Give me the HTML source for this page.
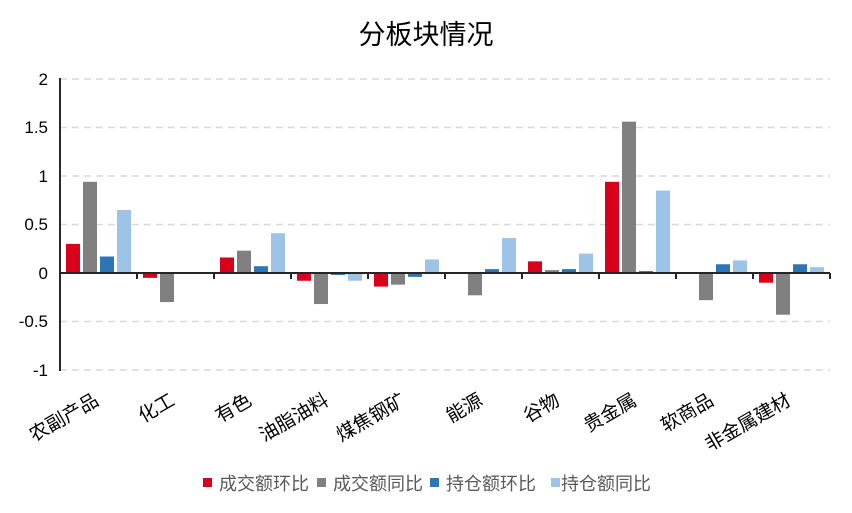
<!DOCTYPE html>
<html><head><meta charset="utf-8"><style>
body{margin:0;background:#fff;}
svg{display:block;font-family:"Liberation Sans","Noto Sans CJK SC",sans-serif;}
</style></head><body>
<svg id="s" width="852" height="513" viewBox="0 0 852 513">
<text x="426" y="44" text-anchor="middle" font-size="27" fill="#000">分板块情况</text>
<g stroke="#d9d9d9" stroke-width="1.5" stroke-dasharray="7,5">
<line x1="60" x2="830" y1="79" y2="79"/><line x1="60" x2="830" y1="127.5" y2="127.5"/>
<line x1="60" x2="830" y1="176" y2="176"/><line x1="60" x2="830" y1="224.5" y2="224.5"/>
<line x1="60" x2="830" y1="321.5" y2="321.5"/><line x1="60" x2="830" y1="370" y2="370"/>
</g>
<g font-size="17" fill="#000" text-anchor="end">
<text x="48" y="85">2</text><text x="48" y="133">1.5</text><text x="48" y="182">1</text>
<text x="48" y="230">0.5</text><text x="48" y="279">0</text><text x="48" y="327">-0.5</text><text x="48" y="376">-1</text>
</g>
<g id="bars"></g>
<line x1="60" y1="78" x2="60" y2="371" stroke="#262626" stroke-width="2"/>
<line x1="59" y1="273" x2="830" y2="273" stroke="#262626" stroke-width="2"/>
<g stroke="#262626" stroke-width="2">
<line x1="137" x2="137" y1="273" y2="279"/><line x1="214" x2="214" y1="273" y2="279"/><line x1="291" x2="291" y1="273" y2="279"/>
<line x1="368" x2="368" y1="273" y2="279"/><line x1="445" x2="445" y1="273" y2="279"/><line x1="522" x2="522" y1="273" y2="279"/>
<line x1="599" x2="599" y1="273" y2="279"/><line x1="676" x2="676" y1="273" y2="279"/><line x1="753" x2="753" y1="273" y2="279"/>
<line x1="830" x2="830" y1="273" y2="279"/>
</g>
<g font-size="19" fill="#000" text-anchor="end">
<text transform="translate(100,404) rotate(-30)">农副产品</text>
<text transform="translate(176,404) rotate(-30)">化工</text>
<text transform="translate(253,404) rotate(-30)">有色</text>
<text transform="translate(330,404) rotate(-30)">油脂油料</text>
<text transform="translate(407,404) rotate(-30)">煤焦钢矿</text>
<text transform="translate(484,404) rotate(-30)">能源</text>
<text transform="translate(561,404) rotate(-30)">谷物</text>
<text transform="translate(638,404) rotate(-30)">贵金属</text>
<text transform="translate(715,404) rotate(-30)">软商品</text>
<text transform="translate(792,404) rotate(-30)">非金属建材</text>
</g>
<g font-size="18" fill="#595959">
<rect x="203" y="478" width="9" height="9" fill="#d9001b"/><text x="219" y="490">成交额环比</text>
<rect x="317" y="478" width="9" height="9" fill="#808080"/><text x="333" y="490">成交额同比</text>
<rect x="430" y="478" width="9" height="9" fill="#2e75b6"/><text x="446" y="490">持仓额环比</text>
<rect x="551" y="478" width="9" height="9" fill="#9dc3e6"/><text x="561" y="490">持仓额同比</text>
</g>
</svg>
<script>
var d=[[0.3,0.94,0.17,0.65],[-0.05,-0.3,0,0],[0.16,0.23,0.07,0.41],[-0.08,-0.32,-0.02,-0.08],[-0.14,-0.12,-0.04,0.14],[0,-0.23,0.04,0.36],[0.12,0.03,0.04,0.2],[0.94,1.56,0.02,0.85],[0,-0.28,0.09,0.13],[-0.1,-0.43,0.09,0.06]];
var c=["#d9001b","#808080","#2e75b6","#9dc3e6"],h="";
d.forEach(function(r,i){r.forEach(function(v,k){if(!v)return;var x=60+77*i+6+17*k,hh=Math.abs(v)*97,y=v>0?273-hh:273;h+='<rect x="'+x+'" y="'+y+'" width="14" height="'+hh+'" fill="'+c[k]+'"/>';});});
document.getElementById("bars").innerHTML=h;
</script>
</body></html>
